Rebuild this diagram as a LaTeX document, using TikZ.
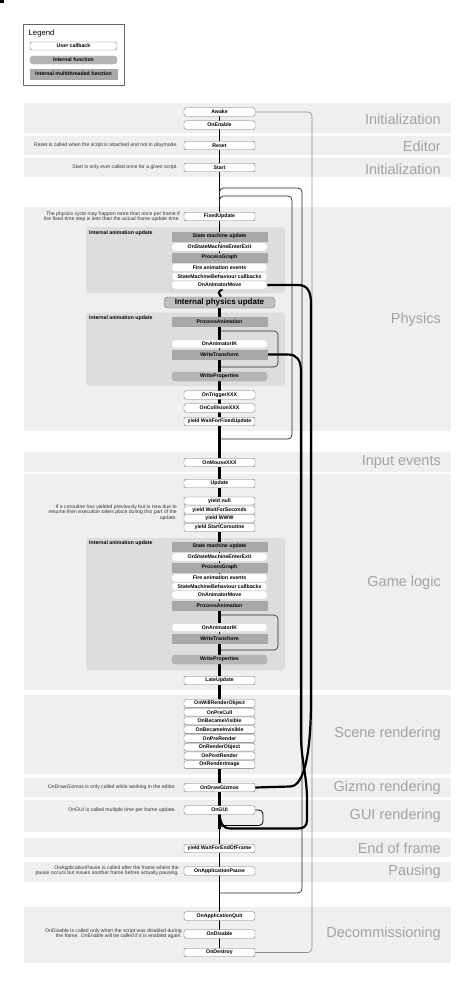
\documentclass[tikz,border=0pt]{standalone}
\usepackage{fontspec}
\setmainfont{Liberation Sans}
\pgfdeclarelayer{bg}\pgfdeclarelayer{mid}\pgfsetlayers{bg,mid,main}
\definecolor{bandc}{HTML}{EFEFEF}
\definecolor{animbg}{HTML}{DDDDDD}
\definecolor{mtgray}{HTML}{A9A9A9}
\definecolor{ifgray}{HTML}{B5B5B5}
\definecolor{lblc}{HTML}{A3A3A3}
\newcommand{\nf}{\fontsize{5.2}{5.5}\selectfont\bfseries}
\newcommand{\notef}{\fontsize{5.1}{5.2}\selectfont}
\tikzset{
 uc/.style={rectangle, rounded corners=2pt, fill=white, draw=black!55, line width=0.4pt, minimum width=71pt, minimum height=8.5pt, inner sep=0pt, font=\nf},
 ucin/.style={rectangle, rounded corners=2.5pt, fill=white, draw=black!20, line width=0.3pt, minimum width=95pt, minimum height=8pt, inner sep=0pt, font=\nf},
 mt/.style={rectangle, fill=mtgray, draw=black!35, line width=0.3pt, minimum width=95pt, minimum height=9pt, inner sep=0pt, font=\nf},
 intf/.style={rectangle, rounded corners=3pt, fill=ifgray, draw=black!35, line width=0.3pt, minimum width=95pt, minimum height=9pt, inner sep=0pt, font=\nf},
 bandbox/.style={fill=bandc, draw=none},
 animbox/.style={fill=animbg, draw=none, rounded corners=3pt},
 animlbl/.style={anchor=north west, font=\nf, inner sep=0pt},
 sect/.style={anchor=base east, font=\fontsize{14.5}{15}\selectfont, text=lblc, inner sep=0pt},
 note/.style={anchor=east, align=right, font=\notef, text=black!80, inner sep=0pt},
 thn/.style={draw=black, line width=0.5pt},
 thk/.style={draw=black, line width=2.2pt},
 loopl/.style={draw=black!85, line width=0.7pt, rounded corners=4pt},
}
\begin{document}
\begin{tikzpicture}[x=1pt,y=-1pt]
\useasboundingbox (0,0) rectangle (474,986);
\fill[black] (0,0) rectangle (4,3);
% ---------- legend
\node[draw=black!60, fill=white, line width=0.4pt, minimum width=101pt, minimum height=61pt, anchor=north west, inner sep=0] (legend) at (23,24) {};
\node[anchor=base west, font=\fontsize{7.7}{8}\selectfont, inner sep=0] (legendt) at (28.5,35) {Legend};
\node[uc, minimum width=87pt, minimum height=8pt] (lg1) at (73.5,46) {User callback};
\node[intf, minimum width=87pt, minimum height=8pt] (lg2) at (73.5,60) {Internal function};
\node[mt, minimum width=87pt, minimum height=10pt] (lg3) at (73.5,74) {Internal multithreaded function};
% ---------- bands
\begin{pgfonlayer}{bg}
\fill[bandbox] (24,103) rectangle (451,133);
\fill[bandbox] (24,136) rectangle (451,155);
\fill[bandbox] (24,158) rectangle (451,177);
\fill[bandbox] (24,207) rectangle (451,431);
\fill[bandbox] (24,452) rectangle (451,472);
\fill[bandbox] (24,474) rectangle (451,690);
\fill[bandbox] (24,695) rectangle (451,774);
\fill[bandbox] (24,778) rectangle (451,797);
\fill[bandbox] (24,800) rectangle (451,832);
\fill[bandbox] (24,838) rectangle (451,857);
\fill[bandbox] (24,862) rectangle (451,882);
\fill[bandbox] (24,907) rectangle (451,963);
\fill[animbox] (86,227) rectangle (285,293);
\fill[animbox] (86,312.5) rectangle (285,386);
\fill[animbox] (86,538) rectangle (285,670);
\end{pgfonlayer}
% ---------- section labels
\node[sect] (sec1) at (441,124) {Initialization};
\node[sect] (sec2) at (441,151.7) {Editor};
\node[sect] (sec3) at (441,174) {Initialization};
\node[sect] (sec4) at (441,323) {Physics};
\node[sect] (sec5) at (441,465.7) {Input events};
\node[sect] (sec6) at (441,586) {Game logic};
\node[sect] (sec7) at (441,737.7) {Scene rendering};
\node[sect] (sec8) at (441,791) {Gizmo rendering};
\node[sect] (sec9) at (441,819) {GUI rendering};
\node[sect] (sec10) at (441,853.3) {End of frame};
\node[sect] (sec11) at (441,875.7) {Pausing};
\node[sect] (sec12) at (441,937.7) {Decommissioning};
% ---------- notes
\node[note] (n1) at (178,145.5) {Reset is called when the script is attached and not in playmode.};
\node[note] (n2) at (178,167.5) {Start is only ever called once for a given script.};
\node[note] (n3) at (180,216.5) {The physics cycle may happen more than once per frame if\\the fixed time step is less than the actual frame update time.};
\node[note, font=\fontsize{5.1}{4.6}\selectfont] (n4) at (177,512.5) {If a coroutine has yielded previously but is now due to\\resume then execution takes place during this part of the\\update.};
\node[note] (n5) at (176,787.5) {OnDrawGizmos is only called while working in the editor.};
\node[note] (n6) at (176,810) {OnGUI is called multiple time per frame update.};
\node[note] (n7) at (179,871) {OnApplicationPause is called after the frame where the\\pause occurs but issues another frame before actually pausing.};
\node[note] (n8) at (182,934) {OnDisable is called only when the script was disabled during\\the frame. OnEnable will be called if it is enabled again.};
% ---------- anim labels
\node[animlbl] (al1) at (89,230.5) {Internal animation update};
\node[animlbl] (al2) at (89,315.5) {Internal animation update};
\node[animlbl] (al3) at (89,541) {Internal animation update};
% ---------- main column
\node[uc] (awake) at (219.5,112) {Awake};
\node[uc] (onenable) at (219.5,125) {OnEnable};
\node[uc] (reset) at (219.5,145.5) {Reset};
\node[uc] (start) at (219.5,167.5) {Start};
\node[uc] (fixedupdate) at (219.5,216.5) {FixedUpdate};
\node[mt] (smu1) at (219.5,236.5) {State machine update};
\node[ucin] (osm1) at (219.5,247) {OnStateMachineEnterExit};
\node[mt] (pg1) at (219.5,257.5) {ProcessGraph};
\node[ucin] (fae1) at (219.5,267.5) {Fire animation events};
\node[ucin] (smb1) at (219.5,276.5) {StateMachineBehaviour callbacks};
\node[ucin] (oam1) at (219.5,285) {OnAnimatorMove};
\node[rectangle, rounded corners=3.5pt, fill=black!25, draw=black!55, line width=0.4pt, minimum width=111pt, minimum height=11pt, inner sep=0pt, font=\fontsize{8}{9}\selectfont\bfseries] (ipu) at (219.5,302.5) {Internal physics update};
\node[mt] (pa1) at (219.5,322) {ProcessAnimation};
\node[ucin] (oik1) at (219.5,344) {OnAnimatorIK};
\node[mt] (wt1) at (219.5,354.5) {WriteTransform};
\node[intf] (wp1) at (219.5,376.5) {WriteProperties};
\node[uc] (otrig) at (219.5,395) {OnTriggerXXX};
\node[uc] (ocoll) at (219.5,408) {OnCollisionXXX};
\node[uc] (ywffu) at (219.5,421.5) {yield WaitForFixedUpdate};
\node[uc] (omouse) at (219.5,462.5) {OnMouseXXX};
\node[uc] (update) at (219.5,483.5) {Update};
\node[uc, minimum height=8pt] (ynull) at (219.5,501) {yield null};
\node[uc, minimum height=8pt] (ywfs) at (219.5,510) {yield WaitForSeconds};
\node[uc, minimum height=8pt] (ywww) at (219.5,518.5) {yield WWW};
\node[uc, minimum height=8pt] (ysc) at (219.5,527.5) {yield StartCoroutine};
\node[mt] (smu2) at (219.5,546.5) {State machine update};
\node[ucin] (osm2) at (219.5,557) {OnStateMachineEnterExit};
\node[mt] (pg2) at (219.5,567.5) {ProcessGraph};
\node[ucin] (fae2) at (219.5,578) {Fire animation events};
\node[ucin, minimum height=7.5pt] (smb2) at (219.5,586.5) {StateMachineBehaviour callbacks};
\node[ucin] (oam2) at (219.5,595) {OnAnimatorMove};
\node[mt] (pa2) at (219.5,605.5) {ProcessAnimation};
\node[ucin] (oik2) at (219.5,627.5) {OnAnimatorIK};
\node[mt] (wt2) at (219.5,638.5) {WriteTransform};
\node[intf] (wp2) at (219.5,659.5) {WriteProperties};
\node[uc] (lateupdate) at (219.5,680.5) {LateUpdate};
\node[uc, minimum height=7.8pt] (owro) at (219.5,703.4) {OnWillRenderObject};
\node[uc, minimum height=7.8pt] (oprecull) at (219.5,712.15) {OnPreCull};
\node[uc, minimum height=7.8pt] (obv) at (219.5,720.9) {OnBecameVisible};
\node[uc, minimum height=7.8pt] (obi) at (219.5,729.65) {OnBecameInvisible};
\node[uc, minimum height=7.8pt] (oprer) at (219.5,738.4) {OnPreRender};
\node[uc, minimum height=7.8pt] (oro) at (219.5,747.15) {OnRenderObject};
\node[uc, minimum height=7.8pt] (opostr) at (219.5,755.9) {OnPostRender};
\node[uc, minimum height=7.8pt] (ori) at (219.5,764.65) {OnRenderImage};
\node[uc] (odg) at (219.5,787.5) {OnDrawGizmos};
\node[uc] (ongui) at (219.5,810) {OnGUI};
\node[uc] (ywfeof) at (219.5,848.5) {yield WaitForEndOfFrame};
\node[uc] (oapause) at (219.5,871) {OnApplicationPause};
\node[uc] (oaquit) at (219.5,916) {OnApplicationQuit};
\node[uc] (odisable) at (219.5,934) {OnDisable};
\node[uc] (odestroy) at (219.5,952.5) {OnDestroy};
% ---------- coordinates
\coordinate (pl0) at (219.5,439);
\coordinate (pl1) at (219.5,206);
\coordinate (fl0) at (219.5,893);
\coordinate (fl1) at (219.5,198);
\coordinate (a1s) at (219.5,331);
\coordinate (a1e) at (221,367);
\coordinate (a2s) at (219.5,615);
\coordinate (a2e) at (221,650);
\coordinate (gbot) at (219.5,826);
\coordinate (tbot) at (219.5,829);
% ---------- connectors
\begin{pgfonlayer}{mid}
\draw[thn] (awake) -- (onenable);
\draw[thn] (onenable) -- (reset);
\draw[thn] (reset) -- (start);
\draw[thn] (start) -- (fixedupdate);
\draw[thn] (fixedupdate) -- (smu1);
\foreach \a/\b in {smu1/osm1,osm1/pg1,pg1/fae1,fae1/smb1,smb1/oam1,oik1/wt1,ynull/ywfs,ywfs/ywww,ywww/ysc,smu2/osm2,osm2/pg2,pg2/fae2,fae2/smb2,smb2/oam2,oam2/pa2,oik2/wt2,owro/oprecull,oprecull/obv,obv/obi,obi/oprer,oprer/oro,oro/opostr,opostr/ori,ywfeof/oapause,oapause/oaquit,oaquit/odisable,odisable/odestroy}
  \draw[thn] (\a) -- (\b);
\draw[thn] (tbot) -- (ywfeof);
\draw[thk] ([xshift=3pt]oam1.south) .. controls (218,292) .. ([xshift=1.5pt]ipu.north);
\foreach \a/\b in {ipu/pa1,pa1/oik1,wt1/wp1,wp1/otrig,otrig/ocoll,ocoll/ywffu,ywffu/omouse,omouse/update,update/ynull,ysc/smu2,pa2/oik2,wt2/wp2,wp2/lateupdate,lateupdate/owro,ori/odg,odg/ongui}
  \draw[thk] (\a) -- (\b);
\draw[thk] (ongui) -- (tbot);
% animation loops
\draw[loopl, line width=0.6pt] (a1s) -- (278,331) -- (278,367) -- (a1e);
\draw[loopl, line width=0.6pt] (a2s) -- (278,615) -- (278,650) -- (a2e);
% physics loop and frame loop
\draw[loopl] (pl0) -- (292,439) -- (292,196) -- (219.5,196) -- (pl1);
\draw[loopl] (fl0) -- (302,893) -- (302,188) -- (219.5,188) -- (fl1);
% lifetime line
\draw[draw=black!45, line width=0.6pt, rounded corners=4pt] (awake.east) -- (312,112) -- (312,952.5) -- (odestroy.east);
% GUI loop
\draw[loopl, draw=black, line width=0.8pt] (ongui.east) -- (263,810) -- (263,825.5) -- (219.5,825.5) -- (gbot);
% thick right lines
\draw[thk] (oam1.east) -- (298,285) .. controls (308,285) and (311,292) .. (311,304) -- (311,700) .. controls (311,745) and (306,786.5) .. (290,786.5) -- (odg.east);
\draw[thk] (wt1.east) -- (288,354.5) .. controls (297,354.5) and (301,360) .. (301,372) -- (301,735) .. controls (301,760) and (307,775) .. (307,800) -- (307,820) .. controls (307,826) and (304,828.5) .. (298,828.5) -- (230,828.5) .. controls (224,828.5) and (220.5,825) .. (ongui.south);
\end{pgfonlayer}
\end{tikzpicture}
\end{document}
